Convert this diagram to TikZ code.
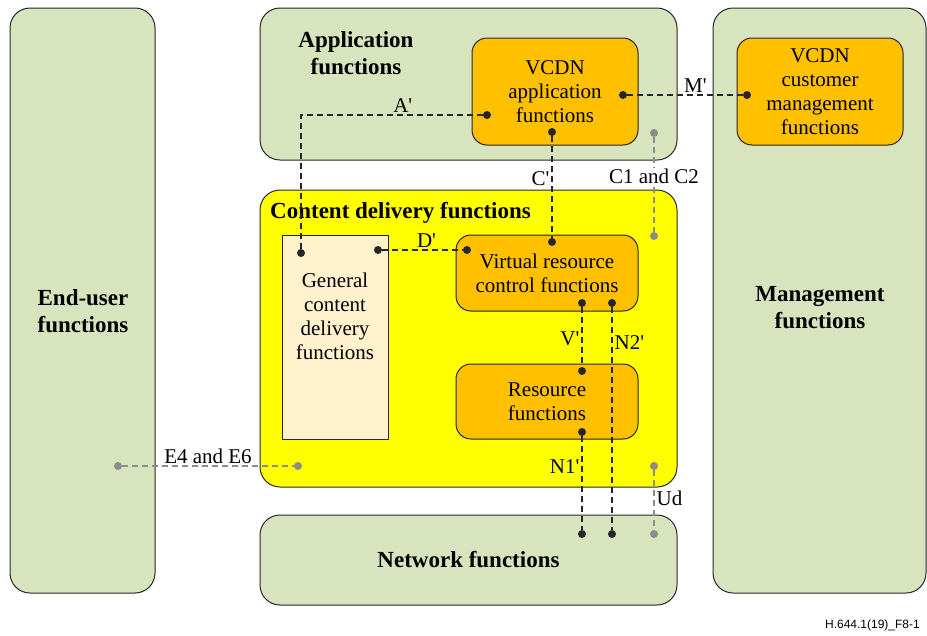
\documentclass[tikz,border=0pt]{standalone}
\usepackage{fontspec}
\setmainfont{Liberation Serif}
\newfontfamily\footfont{Liberation Sans}
\usetikzlibrary{positioning,calc}
\definecolor{panelgreen}{RGB}{215,228,190}
\definecolor{cdyellow}{RGB}{255,255,0}
\definecolor{vorange}{RGB}{255,192,0}
\definecolor{paleorange}{RGB}{255,242,204}
\definecolor{edgegray}{RGB}{38,38,38}
\definecolor{ifgray}{RGB}{140,140,140}
\newcommand{\pr}{\textquotesingle}

\begin{document}
\begin{tikzpicture}[x=1pt, y=-1pt,
      panel/.style={rectangle, draw=edgegray, line width=1pt, fill=panelgreen, rounded corners=20pt, inner sep=0pt, align=center, font=\fontsize{23}{26}\selectfont\bfseries},
      func/.style={rectangle, draw=edgegray, line width=1pt, fill=vorange, rounded corners=15pt, inner sep=0pt, align=center, font=\fontsize{21}{24}\selectfont},
      title/.style={align=center, font=\fontsize{23}{26.5}\selectfont\bfseries, inner sep=0pt},
      dot/.style={circle, fill=edgegray, inner sep=0pt, minimum size=8pt},
      gdot/.style={dot, fill=ifgray},
      link/.style={draw=edgegray, line width=1.3pt, dash pattern=on 6pt off 4pt},
      glink/.style={link, draw=ifgray},
      lbl/.style={font=\fontsize{21}{24}\selectfont, inner sep=2pt}
    ]
      \useasboundingbox (0,0) rectangle (927,635);

      % outer panels
      \node[panel, minimum width=145pt, minimum height=585pt] (enduser) at (82.5,300.5) {};
      \node[panel, minimum width=213pt, minimum height=585pt] (mgmt) at (819.5,300.5) {};
      \node[panel, minimum width=417pt, minimum height=152pt] (app) at (468.5,84) {};
      \node[panel, fill=cdyellow, minimum width=417pt, minimum height=297pt] (cdf) at (468.5,338.5) {};
      \node[panel, minimum width=417pt, minimum height=90pt] (net) at (468.5,560) {Network functions};

      \node[title] (eutitle) at (83,311) {End-user\\functions};
      \node[title] (mgmttitle) at (820,307.5) {Management\\functions};
      \node[title] (apptitle) at (356,53) {Application\\functions};
      \node[title, anchor=west] (cdftitle) at (270,212.5) {Content delivery functions};

      % inner function boxes
      \node[func, minimum width=166pt, minimum height=107pt] (vcdnapp) at (555,91.5) {VCDN\\application\\functions};
      \node[func, minimum width=166pt, minimum height=107pt] (vcdncm) at (820,91.5) {VCDN\\customer\\management\\functions};
      \node[func, minimum width=182pt, minimum height=76pt] (vrc) at (547,273) {Virtual resource\\control functions};
      \node[func, minimum width=182pt, minimum height=75pt] (res) at (547,401.5) {Resource\\functions};
      \node[func, rounded corners=0pt, fill=paleorange, minimum width=106pt, minimum height=204pt] (gcd) at (335,337) {};
      \node[func, fill=none, draw=none] (gcdtext) at (335,316) {General\\content\\delivery\\functions};

      % reference points
      \node[dot] (appA) at (487,115) {};
      \node[dot] (appM) at (623,95) {};
      \node[dot] (appC) at (552,132) {};
      \node[dot] (cmM) at (747,95) {};
      \node[dot] (gcdA) at (301,253) {};
      \node[dot] (gcdD) at (378,250) {};
      \node[dot] (vrcD) at (467,250) {};
      \node[dot] (vrcC) at (552,242) {};
      \node[dot] (vrcV) at (582,303) {};
      \node[dot] (vrcN) at (612,303) {};
      \node[dot] (resV) at (582,371) {};
      \node[dot] (resN) at (582,432) {};
      \node[dot] (netN1) at (582,534) {};
      \node[dot] (netN2) at (612,534) {};
      \node[gdot] (appG) at (654,133) {};
      \node[gdot] (cdfG) at (654,236) {};
      \node[gdot] (cdfU) at (654,466) {};
      \node[gdot] (netU) at (654,534) {};
      \node[gdot] (euE) at (118,466) {};
      \node[gdot] (cdfE) at (298,466) {};

      % interfaces
      \draw[link] (appA) -| node[lbl, pos=0.22, above] {A\pr} (gcdA);
      \draw[link] (appM) -- node[lbl, pos=0.59, above] {M\pr} (cmM);
      \draw[link] (appC) -- node[lbl, pos=0.42, left] {C\pr} (vrcC);
      \draw[link] (gcdD) -- node[lbl, pos=0.55, above] {D\pr} (vrcD);
      \draw[link] (vrcV) -- node[lbl, pos=0.53, left] {V\pr} (resV);
      \draw[link] (vrcN) -- node[lbl, pos=0.16, right] {N2\pr} (netN2);
      \draw[link] (resN) -- node[lbl, pos=0.32, left] {N1\pr} (netN1);
      \draw[glink] (appG) -- node[lbl, pos=0.41, fill=white, inner sep=1pt] {C1 and C2} (cdfG);
      \draw[glink] (cdfU) -- node[lbl, pos=0.47, right] {Ud} (netU);
      \draw[glink] (euE) -- node[lbl, pos=0.5, above] {E4 and E6} (cdfE);

      \node[anchor=east, font=\footfont\fontsize{12}{14}\selectfont, inner sep=0pt] (figid) at (920,625) {H.644.1(19)\_F8-1};
    \end{tikzpicture}
\end{document}
